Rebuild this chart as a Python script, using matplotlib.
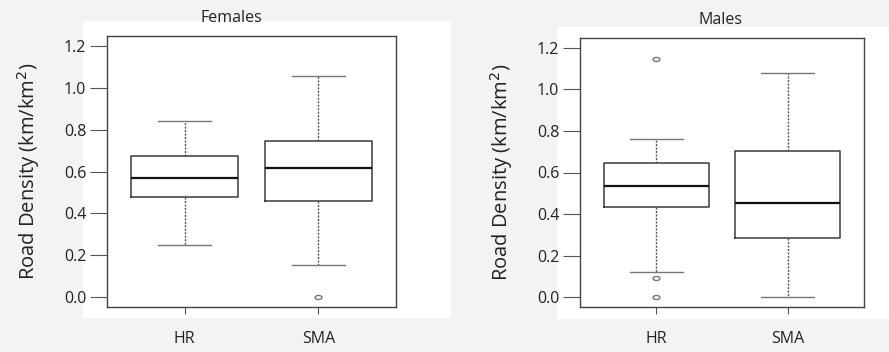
import matplotlib
matplotlib.use("Agg")
import matplotlib.pyplot as plt
from matplotlib.patches import Rectangle
from matplotlib.path import Path
from matplotlib.transforms import Affine2D

# five-number summaries
groups = ["HR", "SMA"]

fem_whislo = [0.248, 0.152]
fem_q1 = [0.478, 0.457]
fem_med = [0.569, 0.615]
fem_q3 = [0.673, 0.748]
fem_whishi = [0.840, 1.058]
fem_fliers = [[], [0.0]]

male_whislo = [0.120, 0.0]
male_q1 = [0.433, 0.285]
male_med = [0.537, 0.453]
male_q3 = [0.646, 0.705]
male_whishi = [0.760, 1.078]
male_fliers = [[1.147, 0.094, 0.0], []]

yticks = [0.0, 0.2, 0.4, 0.6, 0.8, 1.0, 1.2]

plt.rcParams['font.family'] = ['Open Sans', 'DejaVu Sans']

# small flat ellipse, like the R outlier symbol here
ellipse = Path.unit_circle().transformed(Affine2D().scale(1.7, 1.0))


def make_stats(lo, q1, med, q3, hi, fl):
    out = []
    for i in range(len(groups)):
        out.append(dict(label=groups[i], whislo=lo[i], q1=q1[i], med=med[i],
                        q3=q3[i], whishi=hi[i], fliers=fl[i]))
    return out


fig = plt.figure(figsize=(8.89, 3.52), dpi=100)
fig.patch.set_facecolor('#f3f3f3')

# white panels behind each plot
fig.patches.append(Rectangle((83 / 889, 1 - 318 / 352), (451 - 83) / 889, (318 - 21) / 352,
                             transform=fig.transFigure, facecolor='white', edgecolor='none', zorder=-5))
fig.patches.append(Rectangle((557 / 889, 1 - 319 / 352), (889 - 557) / 889, (319 - 27) / 352,
                             transform=fig.transFigure, facecolor='white', edgecolor='none', zorder=-5))

ax1 = fig.add_axes([107 / 889, 1 - 307 / 352, (396 - 107) / 889, (307 - 36) / 352])
ax2 = fig.add_axes([580 / 889, 1 - 307.3 / 352, (864 - 580) / 889, (307.3 - 37.7) / 352])

panels = [
    (ax1, make_stats(fem_whislo, fem_q1, fem_med, fem_q3, fem_whishi, fem_fliers), "Females"),
    (ax2, make_stats(male_whislo, male_q1, male_med, male_q3, male_whishi, male_fliers), "Males"),
]

for ax, stats, title in panels:
    ax.set_facecolor('none')
    ax.bxp(stats, positions=[1, 2], widths=0.8, showfliers=True,
           boxprops=dict(color='#3a3a3a', linewidth=1.1),
           medianprops=dict(color='#111111', linewidth=1.6),
           whiskerprops=dict(color='#555555', linewidth=1.0, linestyle=(0, (1.5, 1))),
           capprops=dict(color='#777777', linewidth=1.0),
           flierprops=dict(marker=ellipse, markersize=5, markerfacecolor='none',
                           markeredgecolor='#777777', markeredgewidth=1.0))
    ax.set_xlim(0.42, 2.58)
    ax.set_ylim(-0.048, 1.248)
    ax.set_yticks(yticks)
    ax.set_yticklabels([f"{v:.1f}" for v in yticks], fontsize=11.5, color='#222222')
    ax.set_xticks([1, 2])
    ax.set_xticklabels(groups, fontsize=11.5, color='#222222')
    ax.tick_params(axis='y', length=12, width=0.8, color='#555555', pad=3)
    ax.tick_params(axis='x', length=5, width=0.8, color='#555555', pad=12)
    for s in ax.spines.values():
        s.set_color('#444444')
        s.set_linewidth(1.0)
    ax.set_ylabel("Road Density (km/km$^2$)", fontsize=14.5, color='#222222', labelpad=16)

fig.text(231 / 889, 1 - 18 / 352, "Females", ha='center', va='center', fontsize=11.5, color='#222222')
fig.text(720 / 889, 1 - 20 / 352, "Males", ha='center', va='center', fontsize=11.5, color='#222222')

fig.savefig("out.png", dpi=100, facecolor=fig.get_facecolor())
